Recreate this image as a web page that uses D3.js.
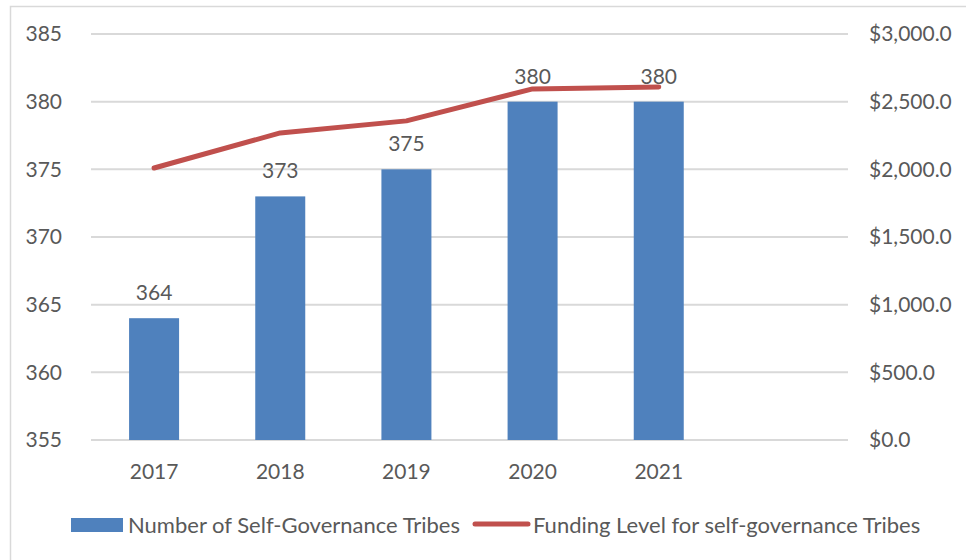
<!DOCTYPE html>
<html>
<head>
<meta charset="utf-8">
<script src="https://cdn.jsdelivr.net/npm/d3@7"></script>
<style>
  body { margin: 0; background: #fff; }
  text { font-family: Lato, "Liberation Sans", sans-serif; fill: #595959; }
</style>
</head>
<body>
<script>
var years = ['2017', '2018', '2019', '2020', '2021'];
var tribes = [364, 373, 375, 380, 380];
var funding = [2010, 2269, 2358, 2594, 2609];
var leftTicks = [355, 360, 365, 370, 375, 380, 385];
var rightTicks = [0, 500, 1000, 1500, 2000, 2500, 3000];
var seriesNames = ['Number of Self-Governance Tribes', 'Funding Level for self-governance Tribes'];

var screen = { width: 966, height: 560 };
var margins = { top: 34, bottom: 120, left: 91, right: 118 };
var fontSize = 21;
var legendFont = 22;

var svg = d3.select('body').append('svg')
            .attr('width', screen.width)
            .attr('height', screen.height);

// chart frame
svg.append('rect')
   .attr('x', 10.5).attr('y', 6.5)
   .attr('width', 970).attr('height', 570)
   .attr('fill', 'none')
   .attr('stroke', '#d9d9d9')
   .attr('stroke-width', 1.5);

// one empty slot after 2021, like the source
var xScale = d3.scaleBand()
               .domain(years.concat(['']))
               .range([margins.left, screen.width - margins.right]);
var bandStep = xScale.step();
xScale.paddingInner(1 - 50 / bandStep).paddingOuter((1 - 50 / bandStep) / 2);

var yLeft = d3.scaleLinear().domain([355, 385]).range([440, margins.top]);
var yRight = d3.scaleLinear().domain([0, 3000]).range([440, margins.top]);

// gridlines
svg.append('g')
   .selectAll('line')
   .data(leftTicks)
   .enter()
   .append('line')
   .attr('x1', margins.left)
   .attr('x2', screen.width - margins.right)
   .attr('y1', function(d){ return yLeft(d); })
   .attr('y2', function(d){ return yLeft(d); })
   .attr('stroke', '#d9d9d9')
   .attr('stroke-width', 2);

var styleTicks = function(g){
  g.select('.domain').remove();
  g.selectAll('text')
   .attr('font-size', fontSize)
   .style('font-family', 'Lato, sans-serif')
   .attr('fill', '#595959');
};

// left axis
var yAxisL = d3.axisLeft(yLeft).tickValues(leftTicks).tickSize(0).tickPadding(0);
svg.append('g')
   .attr('transform', 'translate(62,0)')
   .call(yAxisL)
   .call(styleTicks);

// right axis
var fmt = function(d){ return '$' + d3.format(',.1f')(d); };
var yAxisR = d3.axisRight(yRight).tickValues(rightTicks).tickFormat(fmt).tickSize(0).tickPadding(0);
svg.append('g')
   .attr('transform', 'translate(869,0)')
   .call(yAxisR)
   .call(styleTicks);

// bottom axis labels
var xAxis = d3.axisBottom(xScale).tickValues(years).tickSize(0).tickPadding(24);
svg.append('g')
   .attr('transform', 'translate(0,440)')
   .call(xAxis)
   .call(styleTicks);

// bars
svg.append('g')
   .selectAll('rect')
   .data(tribes)
   .enter()
   .append('rect')
   .attr('x', function(d, i){ return xScale(years[i]); })
   .attr('y', function(d){ return yLeft(d); })
   .attr('width', xScale.bandwidth())
   .attr('height', function(d){ return yLeft(355) - yLeft(d); })
   .attr('fill', '#4f81bd');

// funding line
var line = d3.line()
             .x(function(d, i){ return xScale(years[i]) + xScale.bandwidth() / 2; })
             .y(function(d){ return yRight(d); });
svg.append('path')
   .datum(funding)
   .attr('d', line)
   .attr('fill', 'none')
   .attr('stroke', '#c0504d')
   .attr('stroke-width', 5)
   .attr('stroke-linecap', 'round')
   .attr('stroke-linejoin', 'round');

// bar labels
svg.append('g')
   .selectAll('text')
   .data(tribes)
   .enter()
   .append('text')
   .attr('x', function(d, i){ return xScale(years[i]) + xScale.bandwidth() / 2; })
   .attr('y', function(d){ return yLeft(d) - 18; })
   .attr('text-anchor', 'middle')
   .attr('font-size', fontSize)
   .text(function(d){ return d; });

// legend
var legend = svg.append('g').classed('legend', true);
legend.append('rect')
      .attr('x', 71).attr('y', 518)
      .attr('width', 52).attr('height', 14)
      .attr('fill', '#4f81bd');
legend.append('text')
      .attr('x', 128).attr('y', 525)
      .attr('dy', '0.35em')
      .attr('font-size', legendFont)
      .text(seriesNames[0]);
legend.append('line')
      .attr('x1', 475).attr('x2', 528)
      .attr('y1', 524).attr('y2', 524)
      .attr('stroke', '#c0504d')
      .attr('stroke-width', 5)
      .attr('stroke-linecap', 'round');
legend.append('text')
      .attr('x', 533).attr('y', 525)
      .attr('dy', '0.35em')
      .attr('font-size', legendFont)
      .text(seriesNames[1]);
</script>
</body>
</html>
